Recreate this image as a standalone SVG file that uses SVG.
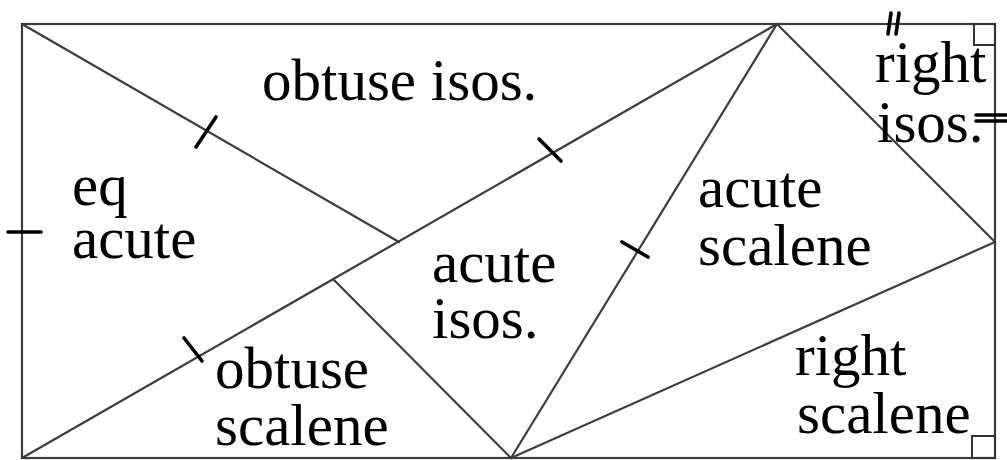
<svg xmlns="http://www.w3.org/2000/svg" width="1007" height="460" viewBox="0 0 1007 460">
<style>
.ln{stroke:#3c3c3c;stroke-width:2.2;fill:none;stroke-linecap:round}
.tk{stroke:#000;stroke-width:3.6;fill:none;stroke-linecap:round}
.sq{stroke:#333;stroke-width:2;fill:none}
text{font-family:"Liberation Serif","Times New Roman",serif;font-size:59px;fill:#000}
</style>
<rect width="1007" height="460" fill="#fff"/>
<g id="connectors">
<rect class="ln" x="22" y="24" width="973" height="434"/>
<line class="ln" x1="22" y1="24" x2="399" y2="242"/>
<line class="ln" x1="22" y1="458" x2="777" y2="24"/>
<line class="ln" x1="334" y1="280" x2="511" y2="458"/>
<line class="ln" x1="777" y1="24" x2="511" y2="458"/>
<line class="ln" x1="777" y1="24" x2="995" y2="242"/>
<line class="ln" x1="511" y1="458" x2="995" y2="242"/>
</g>
<g id="marks">
<line class="tk" x1="8" y1="232" x2="41" y2="232"/>
<line class="tk" x1="196" y1="147" x2="216" y2="117"/>
<line class="tk" x1="539" y1="139" x2="561" y2="161"/>
<line class="tk" x1="184" y1="338" x2="202" y2="361"/>
<line class="tk" x1="622" y1="242" x2="648" y2="257"/>
<line class="tk" x1="888" y1="34" x2="891" y2="13"/>
<line class="tk" x1="896" y1="34" x2="899" y2="13"/>
<line class="tk" x1="976" y1="115" x2="1007" y2="115"/>
<line class="tk" x1="976" y1="121" x2="1007" y2="121"/>
<rect class="sq" x="974" y="24" width="21" height="21"/>
<rect class="sq" x="972" y="436" width="23" height="22"/>
</g>
<g id="n-obtuse-isos"><text x="262" y="100">obtuse isos.</text></g>
<g id="n-eq-acute"><text x="72" y="205">eq</text><text x="72" y="258">acute</text></g>
<g id="n-acute-isos"><text x="432" y="282">acute</text><text x="432" y="338">isos.</text></g>
<g id="n-acute-scalene"><text x="698" y="207">acute</text><text x="698" y="265">scalene</text></g>
<g id="n-right-isos"><text x="875" y="82">right</text><text x="877" y="142">isos.</text></g>
<g id="n-obtuse-scalene"><text x="215" y="388">obtuse</text><text x="215" y="445">scalene</text></g>
<g id="n-right-scalene"><text x="795" y="375">right</text><text x="797" y="433">scalene</text></g>
</svg>
